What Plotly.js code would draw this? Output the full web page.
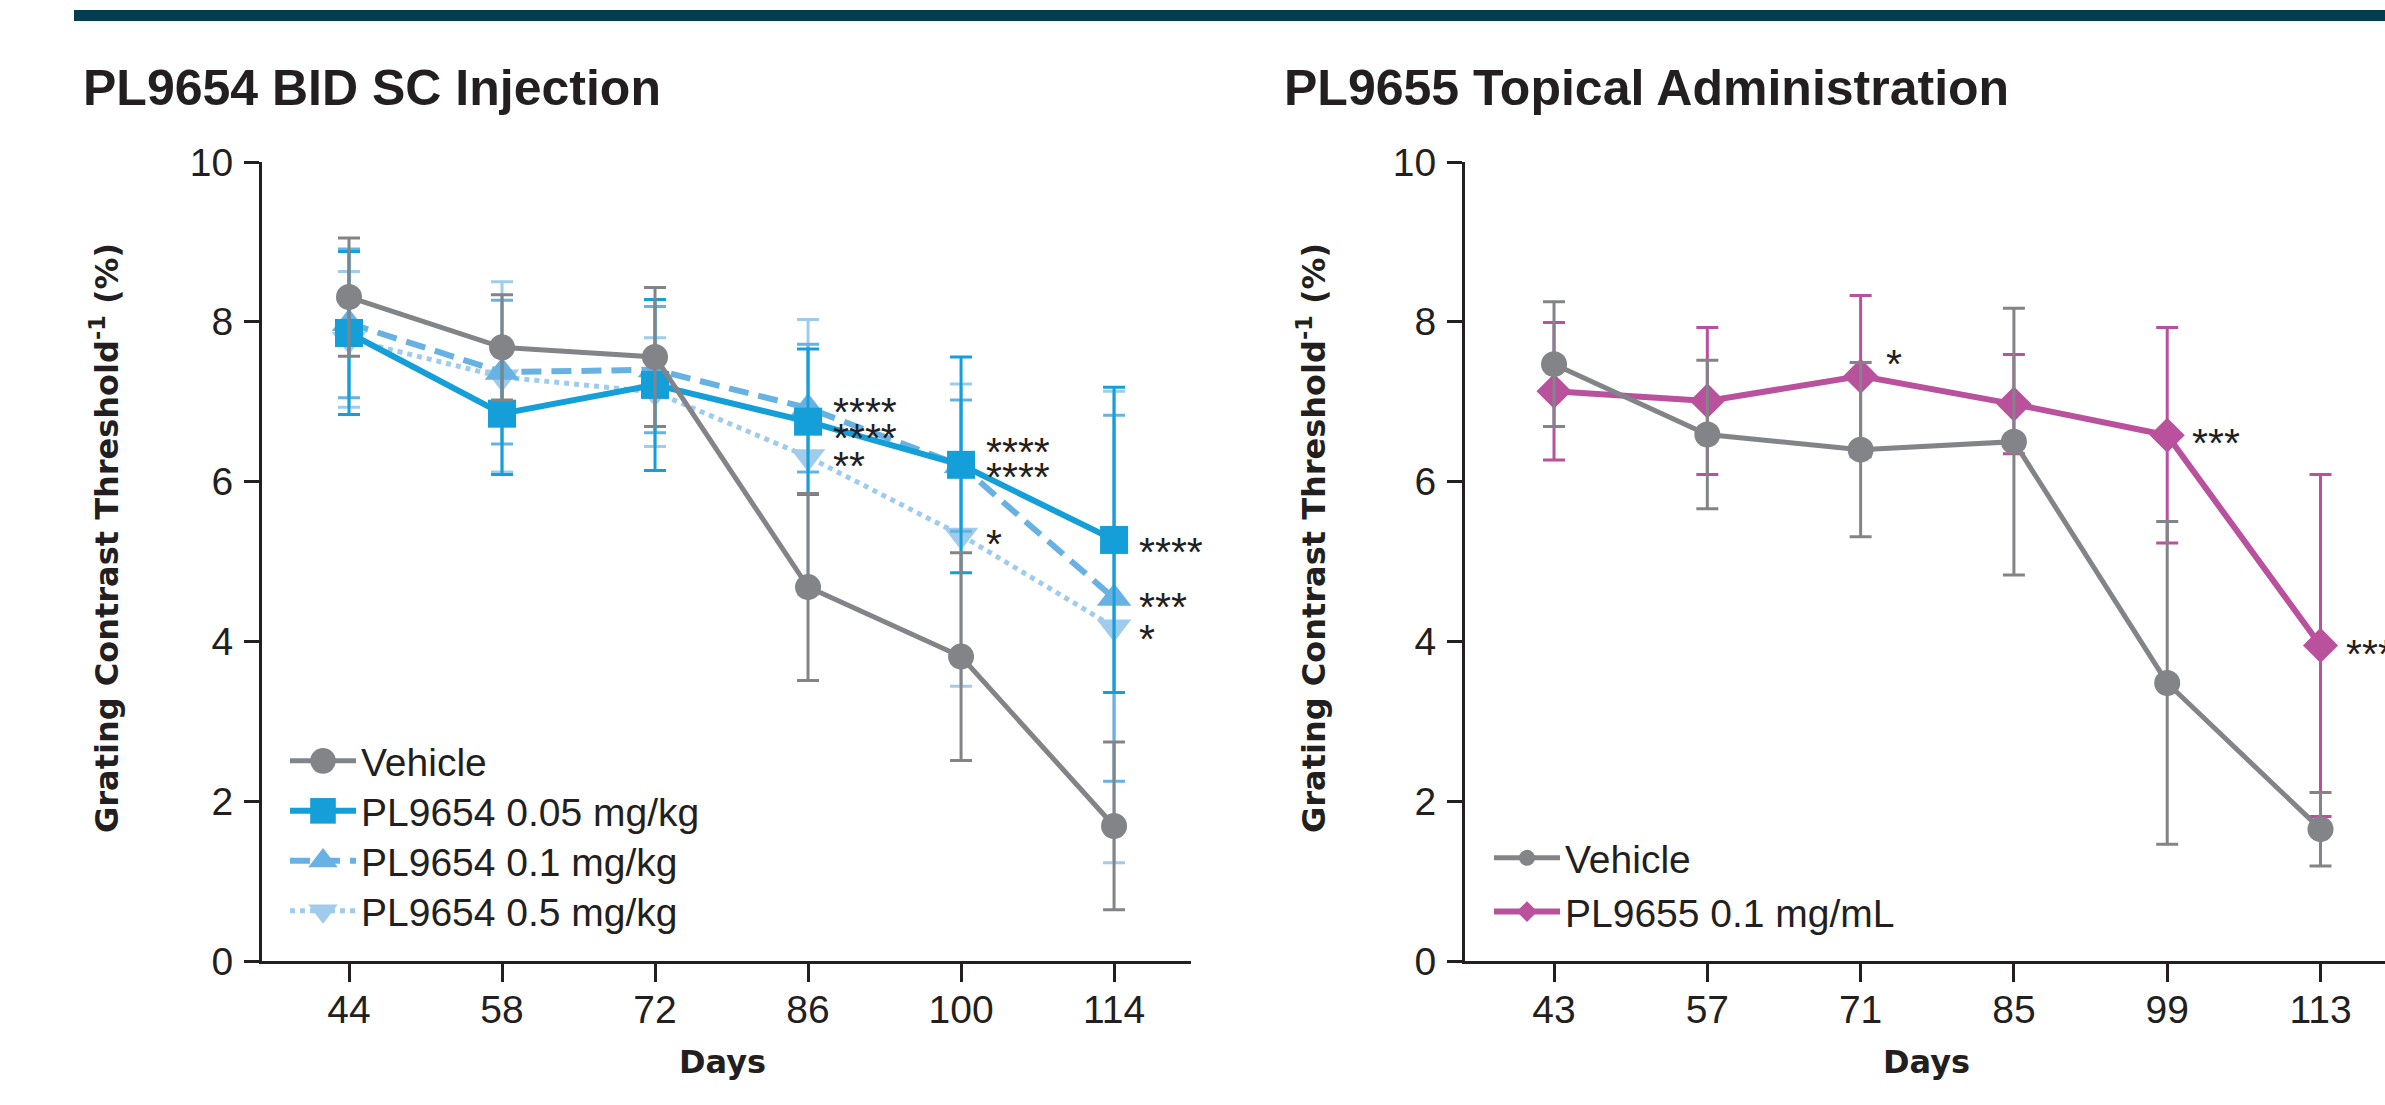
<!DOCTYPE html>
<html>
<head>
<meta charset="utf-8">
<script src="https://cdn.plot.ly/plotly-3.0.1.min.js"></script>
<style>
html,body{margin:0;padding:0;background:#fff;}
#chart{width:2385px;height:1105px;}
</style>
</head>
<body>
<div id="chart"></div>
<script>
// ---------------- DATA ----------------
const panelTitles = ['PL9654 BID SC Injection', 'PL9655 Topical Administration'];
const yTitle = 'Grating Contrast Threshold<sup>-1</sup> (%)';
const xTitle = 'Days';
const yTicks = [0, 2, 4, 6, 8, 10];

// Left panel: PL9654 BID SC injection
const days1 = [44, 58, 72, 86, 100, 114];
const vehicle1 = [8.31, 7.68, 7.56, 4.68, 3.81, 1.69];
const vehicle1Err = [0.74, 0.66, 0.87, 1.17, 1.30, 1.05];
const pl9654_005 = [7.86, 6.85, 7.21, 6.75, 6.21, 5.27];
const pl9654_005Err = [1.02, 0.76, 1.07, 0.91, 1.35, 1.91];
const pl9654_01 = [7.98, 7.37, 7.40, 6.92, 6.20, 4.54];
const pl9654_01Err = [0.93, 0.90, 0.79, 0.80, 0.82, 2.29];
const pl9654_05 = [7.78, 7.31, 7.12, 6.31, 5.33, 4.18];
const pl9654_05Err = [0.85, 1.19, 0.68, 1.72, 1.89, 2.95];
const names1 = ['Vehicle', 'PL9654 0.05 mg/kg', 'PL9654 0.1 mg/kg', 'PL9654 0.5 mg/kg'];

// Significance marks, left panel
const starText1 = ['****', '****', '**', '****', '****', '*', '****', '***', '*'];
const starX1 = [86, 86, 86, 100, 100, 100, 114, 114, 114];
const starY1 = [6.98, 6.66, 6.31, 6.48, 6.17, 5.33, 5.23, 4.54, 4.14];

// Right panel: PL9655 topical administration
const days2 = [43, 57, 71, 85, 99, 113];
const vehicle2 = [7.47, 6.59, 6.40, 6.50, 3.48, 1.65];
const vehicle2Err = [0.78, 0.93, 1.09, 1.67, 2.02, 0.46];
const pl9655 = [7.13, 7.01, 7.32, 6.97, 6.58, 3.95];
const pl9655Err = [0.86, 0.92, 1.01, 0.62, 1.35, 2.14];
const names2 = ['Vehicle', 'PL9655 0.1 mg/mL'];

// Significance marks, right panel
const starText2 = ['*', '***', '***'];
const starX2 = [71, 99, 113];
const starY2 = [7.59, 6.59, 3.95];

// ---------------- STYLE ----------------
const W = 2385, H = 1105;
const INK = '#231f20';
const GRAY = '#838488';
const BLUE1 = '#159fd8';
const BLUE2 = '#68b2e3';
const BLUE3 = '#9fcbec';
const MAGENTA = '#b9519c';
const SANS = 'Liberation Sans, Arial, Helvetica, sans-serif';
const BOLD = 'DejaVu Sans, Verdana, sans-serif';

function px2x(p) { return p / W; }
function py2y(p) { return 1 - p / H; }

function errY(arr, color) {
  return { type: 'data', array: arr, visible: true, color: color, thickness: 3, width: 11 };
}

function series(x, y, err, name, color, symbol, msize, dash, lw, xa, ya, legend) {
  return {
    type: 'scatter', mode: 'lines+markers', x: x, y: y, name: name,
    xaxis: xa, yaxis: ya, legend: legend,
    line: { color: color, width: lw, dash: dash },
    marker: { color: color, symbol: symbol, size: msize, line: { width: 0 } },
    error_y: errY(err, color),
    cliponaxis: false
  };
}

const traces = [
  series(days1, pl9654_05, pl9654_05Err, names1[3], BLUE3, 'triangle-down', 30, '5px,5px', 5, 'x', 'y', 'legend'),
  series(days1, pl9654_01, pl9654_01Err, names1[2], BLUE2, 'triangle-up', 30, '20px,10px', 6, 'x', 'y', 'legend'),
  series(days1, pl9654_005, pl9654_005Err, names1[1], BLUE1, 'square', 28, 'solid', 6, 'x', 'y', 'legend'),
  series(days1, vehicle1, vehicle1Err, names1[0], GRAY, 'circle', 26, 'solid', 5, 'x', 'y', 'legend'),
  series(days2, pl9655, pl9655Err, names2[1], MAGENTA, 'diamond', 27, 'solid', 6, 'x2', 'y2', 'legend2'),
  series(days2, vehicle2, vehicle2Err, names2[0], GRAY, 'circle', 26, 'solid', 5, 'x2', 'y2', 'legend2')
];

const yDomain = [1 - 961 / H, 1 - 162 / H];

function xAxis(domain, range, ticks, anchor) {
  return {
    domain: domain, range: range, tickvals: ticks, ticktext: ticks.map(String),
    anchor: anchor, showgrid: false, zeroline: false,
    showline: true, linewidth: 3, linecolor: INK,
    ticks: 'outside', ticklen: 18, tickwidth: 3, tickcolor: INK,
    tickfont: { family: SANS, size: 39, color: INK },
    ticklabelstandoff: -6, fixedrange: true
  };
}
function yAxis(anchor) {
  return {
    domain: yDomain, range: [0, 10], tickvals: yTicks, ticktext: yTicks.map(String),
    anchor: anchor, showgrid: false, zeroline: false,
    showline: true, linewidth: 3, linecolor: INK,
    ticks: 'outside', ticklen: 15, tickwidth: 3, tickcolor: INK,
    tickfont: { family: SANS, size: 39, color: INK },
    ticklabelstandoff: 3, fixedrange: true
  };
}

const annotations = [];
// panel titles
[[panelTitles[0], 81], [panelTitles[1], 1282]].forEach(function (t) {
  annotations.push({
    xref: 'paper', yref: 'paper', x: px2x(t[1]), y: py2y(88), text: t[0],
    showarrow: false, xanchor: 'left', yanchor: 'middle',
    font: { family: SANS, size: 50, color: INK, weight: 'bold' }
  });
});
// y titles
[105, 1312].forEach(function (p) {
  annotations.push({
    xref: 'paper', yref: 'paper', x: px2x(p), y: py2y(538), text: yTitle,
    showarrow: false, textangle: -90, xanchor: 'center', yanchor: 'middle',
    font: { family: BOLD, size: 32, color: INK, weight: 'bold' }
  });
});
// x titles
[722, 1926].forEach(function (p) {
  annotations.push({
    xref: 'paper', yref: 'paper', x: px2x(p), y: py2y(1062), text: xTitle,
    showarrow: false, xanchor: 'center', yanchor: 'middle',
    font: { family: BOLD, size: 32, color: INK, weight: 'bold' }
  });
});
// significance stars
function addStars(texts, xs, ys, xr, yr) {
  texts.forEach(function (t, i) {
    annotations.push({
      xref: xr, yref: yr, x: xs[i], y: ys[i], text: t, showarrow: false,
      xanchor: 'left', yanchor: 'middle', xshift: 23, yshift: -9,
      font: { family: SANS, size: 41, color: INK }
    });
  });
}
addStars(starText1, starX1, starY1, 'x', 'y');
addStars(starText2, starX2, starY2, 'x2', 'y2');

const legendFont = { family: SANS, size: 39, color: INK };
const layout = {
  width: W, height: H,
  margin: { l: 0, r: 0, t: 0, b: 0, pad: 0 },
  paper_bgcolor: '#ffffff', plot_bgcolor: '#ffffff',
  showlegend: true,
  xaxis: xAxis([262 / W, 1191 / W], [36.04, 121.04], days1, 'y'),
  yaxis: yAxis('x'),
  xaxis2: xAxis([1465 / W, 1], [34.87, 118.89], days2, 'y2'),
  yaxis2: yAxis('x2'),
  legend: {
    x: px2x(285), y: py2y(729), xanchor: 'left', yanchor: 'top',
    traceorder: 'reversed', font: legendFont, bgcolor: 'rgba(0,0,0,0)',
    borderwidth: 0, itemwidth: 66, tracegroupgap: 0
  },
  legend2: {
    x: px2x(1489), y: py2y(826), xanchor: 'left', yanchor: 'top',
    traceorder: 'reversed', font: legendFont, bgcolor: 'rgba(0,0,0,0)',
    borderwidth: 0, itemwidth: 66, tracegroupgap: 0
  },
  annotations: annotations,
  shapes: [{
    type: 'rect', xref: 'paper', yref: 'paper',
    x0: px2x(74), x1: 1, y0: py2y(21), y1: py2y(10),
    fillcolor: '#033d4f', line: { width: 0 }, layer: 'above'
  }]
};

function parseTranslate(t) {
  var m = /translate\(\s*([-\d.e]+)[ ,]+([-\d.e]+)\s*\)/.exec(t || '');
  return m ? [parseFloat(m[1]), parseFloat(m[2])] : [0, 0];
}

// Legend finishing: larger symbols and 50 px rows (idempotent).
function tweakLegends() {
  try {
    var all = Array.prototype.slice.call(document.querySelectorAll('g.traces'))
      .filter(function (g) { return g.querySelector('.legendtext'); });
    var groups = [];
    all.forEach(function (g) {
      var p = g.parentNode;
      var grp = null;
      for (var i = 0; i < groups.length; i++) if (groups[i].parent === p) grp = groups[i];
      if (!grp) { grp = { parent: p, items: [] }; groups.push(grp); }
      grp.items.push(g);
    });
    groups.forEach(function (grp) {
      var items = grp.items;
      var pos = items.map(function (it) { return parseTranslate(it.getAttribute('transform')); });
      var order = items.map(function (it, i) { return i; }).sort(function (a, b) { return pos[a][1] - pos[b][1]; });
      var y0 = pos[order[0]][1];
      order.forEach(function (idx, k) {
        var it = items[idx];
        var want = 'translate(' + pos[idx][0] + ',' + (y0 + k * 50) + ')';
        if (it.getAttribute('transform') !== want) it.setAttribute('transform', want);
        it.querySelectorAll('path.scatterpts').forEach(function (p) {
          var t = p.getAttribute('transform') || '';
          if (t.indexOf('scale(') < 0) p.setAttribute('transform', t + ' scale(1.6)');
        });
      });
    });
  } catch (e) { /* keep the native legend */ }
}

var gd = document.getElementById('chart');
Plotly.newPlot(gd, traces, layout, { staticPlot: true, displayModeBar: false }).then(function () {
  tweakLegends();
  if (window.MutationObserver) {
    var busy = false;
    new MutationObserver(function () {
      if (busy) return;
      busy = true; tweakLegends(); busy = false;
    }).observe(gd, { childList: true, subtree: true, attributes: true, attributeFilter: ['transform'] });
  }
  setTimeout(tweakLegends, 0);
  setTimeout(tweakLegends, 300);
});
</script>
</body>
</html>
